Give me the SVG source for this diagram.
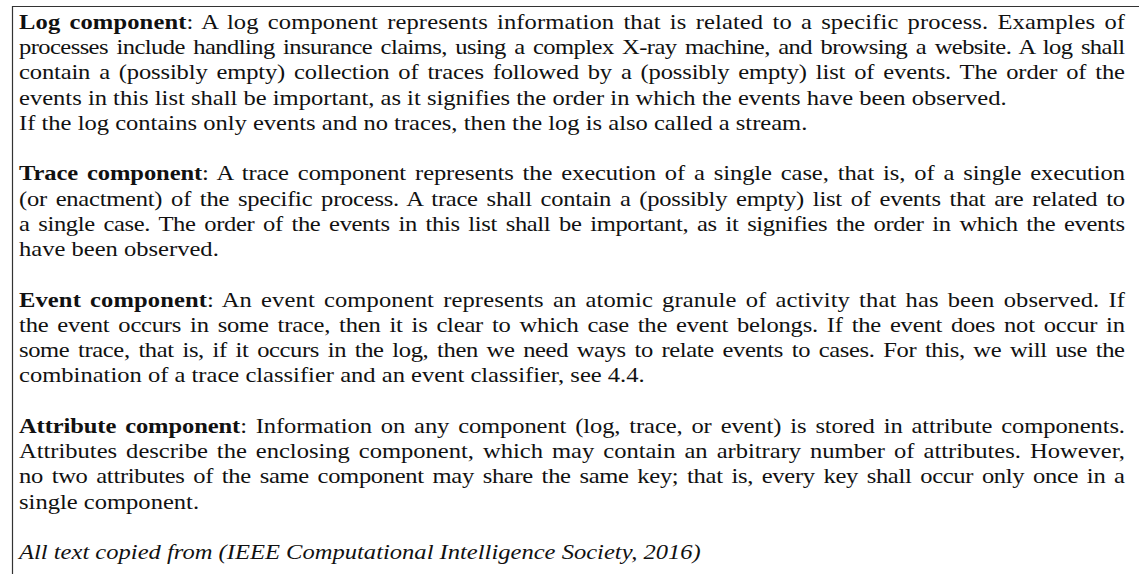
<svg xmlns="http://www.w3.org/2000/svg" width="1139" height="574" viewBox="0 0 1139 574">
  <style>
    .t { font-family: "Liberation Serif", "Times New Roman", serif; font-size: 21px; fill: #111; }
    .j { word-spacing: 2.5px; }
    .b { font-weight: bold; }
    .i { font-style: italic; }
    .frame { fill: none; stroke: #333; stroke-width: 1.2; }
  </style>
  <rect width="1139" height="574" fill="#fff"/>
  <!-- open frame: top rule and left rule -->
  <path class="frame" d="M12 6.5 H1139 M12.5 6 V574"/>

  <!-- text set slightly wide; justified lines fill 19..1125 -->
  <g transform="scale(1.17 1)">
    <g id="log-component">
      <text class="t j" x="16.24" y="29" textLength="945.3" lengthAdjust="spacing"><tspan class="b">Log component</tspan>: A log component represents information that is related to a specific process. Examples of</text>
      <text class="t j" x="16.24" y="54.25" textLength="945.3" lengthAdjust="spacing">processes include handling insurance claims, using a complex X-ray machine, and browsing a website. A log shall</text>
      <text class="t j" x="16.24" y="79.5" textLength="945.3" lengthAdjust="spacing">contain a (possibly empty) collection of traces followed by a (possibly empty) list of events. The order of the</text>
      <text class="t" x="16.24" y="104.75">events in this list shall be important, as it signifies the order in which the events have been observed.</text>
      <text class="t" x="16.24" y="130">If the log contains only events and no traces, then the log is also called a stream.</text>
    </g>

    <g id="trace-component">
      <text class="t j" x="16.24" y="180.5" textLength="945.3" lengthAdjust="spacing"><tspan class="b">Trace component</tspan>: A trace component represents the execution of a single case, that is, of a single execution</text>
      <text class="t j" x="16.24" y="205.75" textLength="945.3" lengthAdjust="spacing">(or enactment) of the specific process. A trace shall contain a (possibly empty) list of events that are related to</text>
      <text class="t j" x="16.24" y="231" textLength="945.3" lengthAdjust="spacing">a single case. The order of the events in this list shall be important, as it signifies the order in which the events</text>
      <text class="t" x="16.24" y="256.25">have been observed.</text>
    </g>

    <g id="event-component">
      <text class="t j" x="16.24" y="306.75" textLength="945.3" lengthAdjust="spacing"><tspan class="b">Event component</tspan>: An event component represents an atomic granule of activity that has been observed. If</text>
      <text class="t j" x="16.24" y="332" textLength="945.3" lengthAdjust="spacing">the event occurs in some trace, then it is clear to which case the event belongs. If the event does not occur in</text>
      <text class="t j" x="16.24" y="357.25" textLength="945.3" lengthAdjust="spacing">some trace, that is, if it occurs in the log, then we need ways to relate events to cases. For this, we will use the</text>
      <text class="t" x="16.24" y="382.5">combination of a trace classifier and an event classifier, see 4.4.</text>
    </g>

    <g id="attribute-component">
      <text class="t j" x="16.24" y="433" textLength="945.3" lengthAdjust="spacing"><tspan class="b">Attribute component</tspan>: Information on any component (log, trace, or event) is stored in attribute components.</text>
      <text class="t j" x="16.24" y="458.25" textLength="945.3" lengthAdjust="spacing">Attributes describe the enclosing component, which may contain an arbitrary number of attributes. However,</text>
      <text class="t j" x="16.24" y="483.5" textLength="945.3" lengthAdjust="spacing">no two attributes of the same component may share the same key; that is, every key shall occur only once in a</text>
      <text class="t" x="16.24" y="508.75">single component.</text>
    </g>

    <g id="source-note">
      <text class="t i" x="16.24" y="559">All text copied from (IEEE Computational Intelligence Society, 2016)</text>
    </g>
  </g>
</svg>
